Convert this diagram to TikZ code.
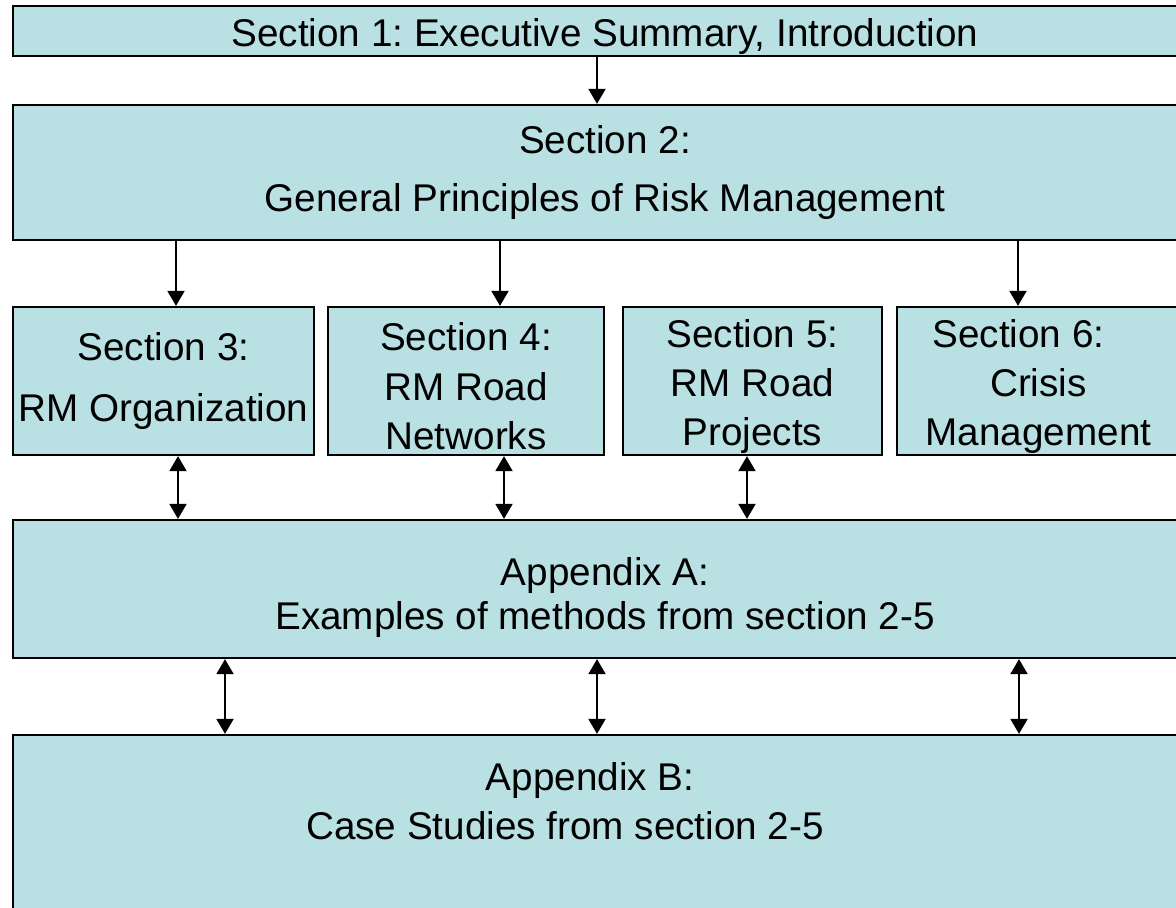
\documentclass[tikz,border=0pt]{standalone}
\usepackage{fontspec}
\setmainfont{Liberation Sans}
\frenchspacing
\usetikzlibrary{arrows.meta}
\definecolor{boxblue}{RGB}{185,224,227}
\newcommand{\topgap}[1]{\rule{0pt}{#1}}

\begin{document}
\begin{tikzpicture}[x=0.02cm,y=-0.02cm,
    box/.style={draw,line width=1.3pt,fill=boxblue,align=center,inner sep=0pt,
      font=\fontsize{22}{28}\selectfont},
    txt/.style={align=center,inner sep=0pt,font=\fontsize{22}{28}\selectfont},
    arr/.style={line width=1.1pt,-{Triangle[width=0.34cm,length=0.3cm]}},
    darr/.style={line width=1.1pt,{Triangle[width=0.34cm,length=0.3cm]}-{Triangle[width=0.34cm,length=0.3cm]}}]
  \useasboundingbox (0,0) rectangle (1176,908);
  \clip (0,0) rectangle (1176,908);
  % top row
  \node[box,minimum width=23.68cm,minimum height=1cm] (s1) at (605,31) {\topgap{22pt}Section 1: Executive Summary, Introduction};
  \node[box,minimum width=23.68cm,minimum height=2.7cm] (s2) at (605,172.5) {Section 2:\\[4.5pt] General Principles of Risk Management};
  % sections 3-6
  \node[box,minimum width=6.02cm,minimum height=2.96cm] (s3) at (163.5,381) {Section 3:\\[7pt] RM Organization};
  \node[box,minimum width=5.52cm,minimum height=2.96cm] (s4) at (466,381) {\topgap{22pt}Section 4:\\RM Road\\Networks};
  \node[box,minimum width=5.18cm,minimum height=2.96cm] (s5) at (752.5,381) {\topgap{22pt}Section 5:\\RM Road\\Projects};
  \node[box,minimum width=5.66cm,minimum height=2.96cm] (s6) at (1038.5,381) {\topgap{22pt}Section 6:\hspace*{0.8cm}\\Crisis\\Management};
  % appendices
  \node[box,minimum width=23.68cm,minimum height=2.76cm] (apA) at (605,589) {\topgap{25.5pt}Appendix A:\\[-3pt] Examples of methods from section 2-5};
  \node[box,minimum width=23.68cm,minimum height=5.3cm] (apB) at (605,867.5) {};
  \node[txt] (apBt) at (590,801) {Appendix B:\\Case Studies from section 2-5\hspace*{1cm}};
  % connectors
  \coordinate (p1) at (597,0);
  \draw[arr] (s1.south -| p1) -- (s2.north -| p1);
  \foreach \x/\n in {176/s3,500/s4,1018/s6}{
    \coordinate (t) at (\x,0);
    \draw[arr] (s2.south -| t) -- (\n.north -| t);
  }
  \foreach \x/\n in {178/s3,504/s4,747/s5}{
    \coordinate (t) at (\x,0);
    \draw[darr] (\n.south -| t) -- (apA.north -| t);
  }
  \foreach \x in {225,597,1019}{
    \coordinate (t) at (\x,0);
    \draw[darr] (apA.south -| t) -- (apB.north -| t);
  }
\end{tikzpicture}
\end{document}
